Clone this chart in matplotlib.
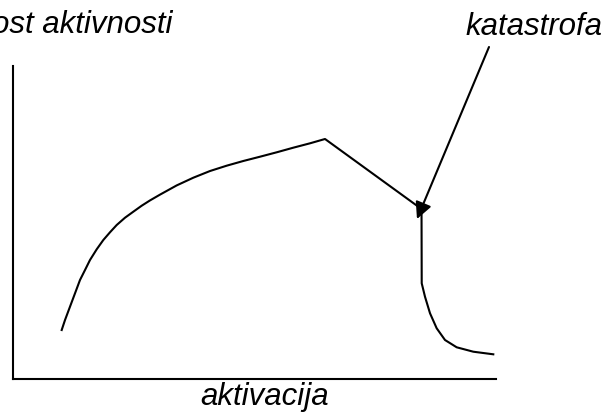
import matplotlib
matplotlib.use("Agg")
import matplotlib.pyplot as plt

# curve (axis units 0..100)
rise_x = [10.08, 10.77, 11.80, 12.84, 13.87, 14.91, 15.94, 17.33, 18.70, 20.08,
          21.47, 23.19, 24.91, 26.65, 28.36, 30.43, 33.89, 37.33, 40.79,
          44.24, 47.68, 51.14, 54.60, 58.03, 61.49, 64.60]
rise_y = [15.65, 18.85, 23.10, 27.38, 31.63, 34.82, 38.02, 41.44, 44.41, 46.87,
          49.20, 51.53, 53.45, 55.37, 57.05, 58.90, 61.85, 64.31, 66.45,
          68.15, 69.65, 71.02, 72.43, 73.90, 75.30, 76.68]
drop_x = [64.60, 84.58, 84.62]
drop_y = [76.68, 54.31, 30.58]
tail_x = [84.62, 85.30, 86.34, 87.72, 89.44, 91.86, 95.30, 99.44]
tail_y = [30.58, 26.29, 20.99, 16.20, 12.46, 10.13, 8.72, 7.89]

label_y = "ost aktivnosti"
label_x = "aktivacija"
label_arrow = "katastrofa"
arrow_from = (98.55, 106.07)
arrow_to = (83.64, 51.12)

plt.rcParams['font.family'] = ['Liberation Sans', 'DejaVu Sans']

fig = plt.figure(figsize=(6.04, 4.12), dpi=100)
ax = fig.add_axes([13 / 604, 33 / 412, 483 / 604, 313 / 412])

ax.plot(rise_x + drop_x[1:] + tail_x[1:], rise_y + drop_y[1:] + tail_y[1:],
        color='black', lw=1.5, solid_joinstyle='round')

ax.set_xlim(0, 100)
ax.set_ylim(0, 100)
for side in ['top', 'right']:
    ax.spines[side].set_visible(False)
for side in ['left', 'bottom']:
    ax.spines[side].set_linewidth(1.5)
ax.set_xticks([])
ax.set_yticks([])

ax.annotate('', xy=arrow_to, xytext=arrow_from, annotation_clip=False,
            arrowprops=dict(arrowstyle='-|>,head_length=0.5,head_width=0.25',
                            mutation_scale=20, lw=1.5, color='black',
                            shrinkA=0, shrinkB=0))

# the y label is cut at the left edge in the original sketch
fig.text(173 / 604, 1 - 33 / 412, label_y, ha='right', va='baseline',
         fontsize=22.5, style='italic')
fig.text(602 / 604, 1 - 35 / 412, label_arrow, ha='right', va='baseline',
         fontsize=22.5, style='italic')
fig.text(265 / 604, 1 - 405 / 412, label_x, ha='center', va='baseline',
         fontsize=22.5, style='italic')

fig.savefig('out.png', dpi=100)
